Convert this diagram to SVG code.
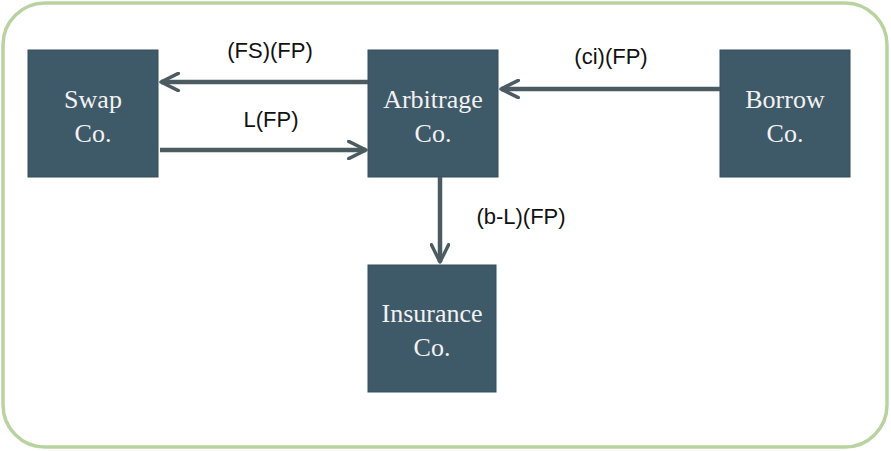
<svg xmlns="http://www.w3.org/2000/svg" width="891" height="451" viewBox="0 0 891 451">
<style>
.box{fill:#3e5968;stroke:#354e5c;stroke-width:1}
.nt{font-family:"Liberation Serif",serif;font-size:26px;fill:#f2f2f2;text-anchor:middle}
.lb{font-family:"Liberation Sans",sans-serif;font-size:22px;fill:#111;text-anchor:middle}
.cn{stroke:#4b5b61;stroke-width:4.5;fill:none}
</style>
<defs>
<marker id="ah" viewBox="0 0 12 12" refX="11" refY="6" markerWidth="4.6" markerHeight="4.6" orient="auto" markerUnits="strokeWidth">
<path d="M1,1 L11,6 L1,11" fill="none" stroke="#4b5b61" stroke-width="2" stroke-linecap="round" stroke-linejoin="round"/>
</marker>
</defs>
<rect x="3" y="3" width="884" height="444" rx="42" fill="#fff" stroke="#b9d3a0" stroke-width="3.5"/>
<g id="swap"><rect class="box" x="28" y="50" width="130" height="127"/><text class="nt" x="93" y="108">Swap</text><text class="nt" x="93" y="142">Co.</text></g>
<g id="arbitrage"><rect class="box" x="368" y="50" width="130" height="127"/><text class="nt" x="433" y="108">Arbitrage</text><text class="nt" x="433" y="142">Co.</text></g>
<g id="borrow"><rect class="box" x="720" y="50" width="130" height="127"/><text class="nt" x="785" y="108">Borrow</text><text class="nt" x="785" y="142">Co.</text></g>
<g id="insurance"><rect class="box" x="368" y="265" width="128" height="127"/><text class="nt" x="432" y="322">Insurance</text><text class="nt" x="432" y="356">Co.</text></g>
<g id="connectors">
<line class="cn" x1="368" y1="82" x2="161" y2="82" marker-end="url(#ah)"/>
<line class="cn" x1="160" y1="150" x2="366" y2="150" marker-end="url(#ah)"/>
<line class="cn" x1="720" y1="89" x2="501" y2="89" marker-end="url(#ah)"/>
<line class="cn" x1="440" y1="177" x2="440" y2="262" marker-end="url(#ah)"/>
<text class="lb" x="270" y="58">(FS)(FP)</text>
<text class="lb" x="271" y="127">L(FP)</text>
<text class="lb" x="611" y="64">(ci)(FP)</text>
<text class="lb" x="521" y="224">(b-L)(FP)</text>
</g>
</svg>
